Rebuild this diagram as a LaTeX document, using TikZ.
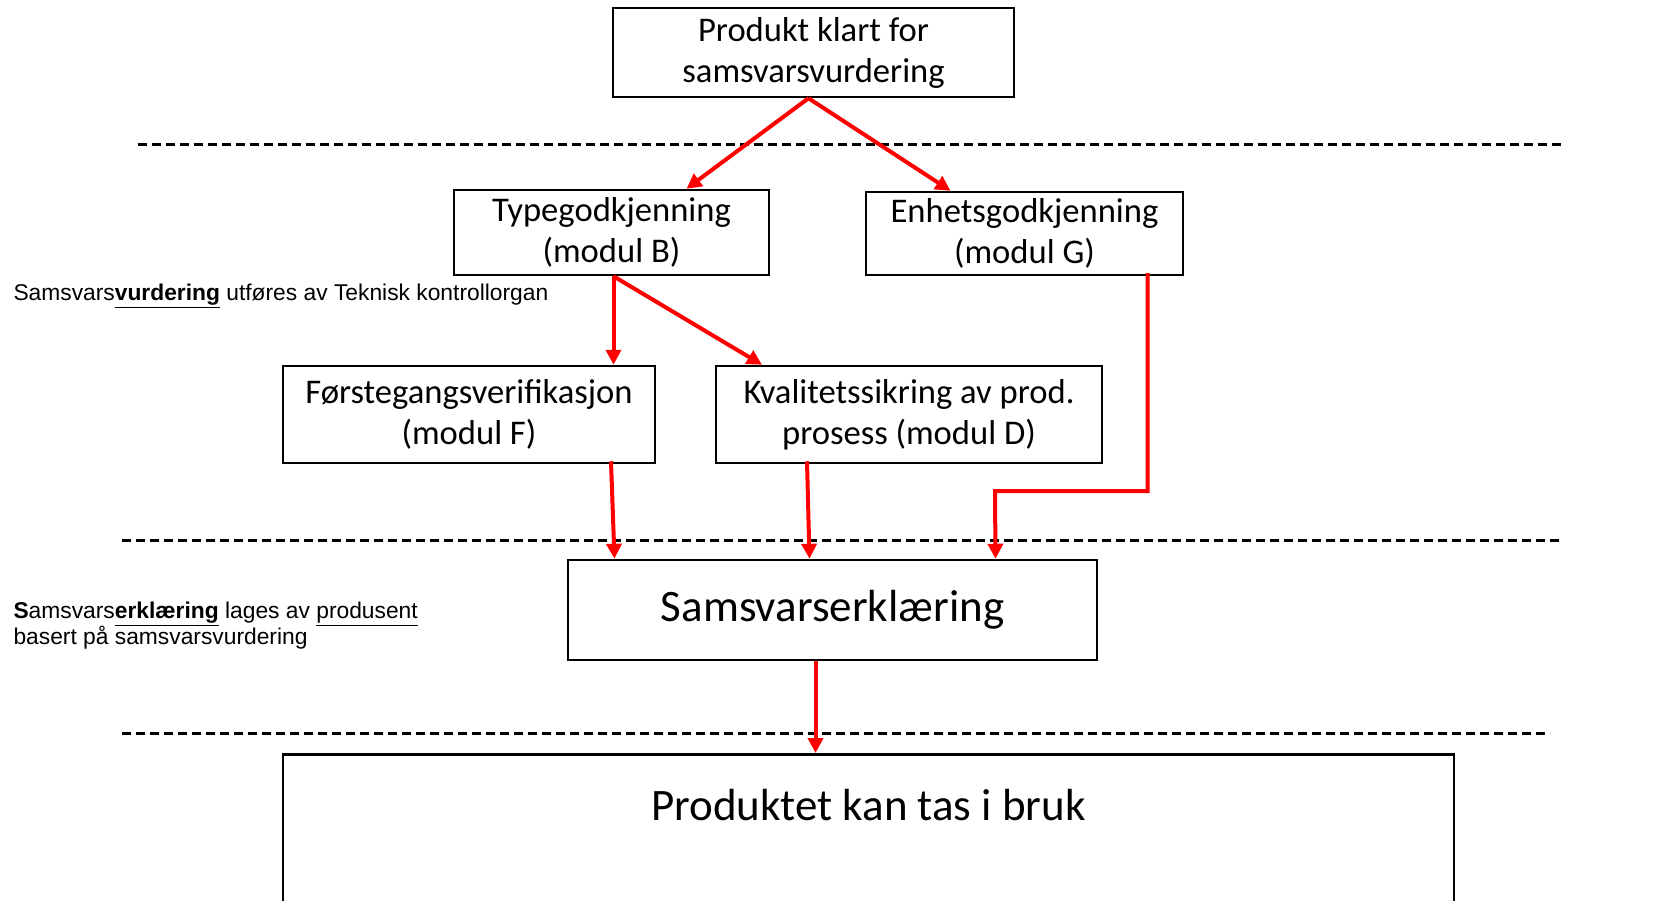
\documentclass[tikz,border=0pt]{standalone}
\usepackage{fontspec}
\setmainfont{Carlito}
\newfontfamily\arialfont{Liberation Sans}
\usetikzlibrary{arrows.meta}
\definecolor{pilrod}{HTML}{FF0000}

\begin{document}
\begin{tikzpicture}[
            x=1pt, y=-1pt,
            box/.style={rectangle, draw, line width=2.5pt, align=center, inner sep=0pt,
                        font=\fontsize{34.6}{41}\selectfont},
            stor/.style={box, font=\fontsize{45}{54}\selectfont},
            flow/.style={draw=pilrod, line width=4pt, -{Triangle[length=15pt, width=15pt]}},
            skille/.style={line width=3pt, dash pattern=on 9pt off 5pt},
            merknad/.style={anchor=west, align=left, font=\arialfont\fontsize{22.8}{26}\selectfont}
        ]
            \useasboundingbox (0,0) rectangle (1660,901);

            \node[box, minimum width=401pt, minimum height=89pt] (start) at (813.5,52.5) {Produkt klart for\\samsvarsvurdering};
            \node[box, minimum width=315pt, minimum height=85pt] (type) at (611.5,232.5) {Typegodkjenning\\(modul B)};
            \node[box, minimum width=317pt, minimum height=83pt] (enhet) at (1024.5,233.5) {Enhetsgodkjenning\\(modul G)};
            \node[box, minimum width=372pt, minimum height=97pt] (forste) at (469,414.5) {Førstegangsverifikasjon\\(modul F)};
            \node[box, minimum width=386pt, minimum height=97pt] (kval) at (909,414.5) {Kvalitetssikring av prod.\\prosess (modul D)};
            \node[stor, minimum width=529pt, minimum height=100pt] (erkl) at (832.5,610) {Samsvarserklæring};
            \node[stor, minimum width=1171pt, text height=66pt, text depth=150pt, anchor=north] (bruk) at (868.5,753) {Produktet kan tas i bruk};
            \coordinate (knekk) at (995,491);

            \draw[skille] (138,145) -- (1565,145);
            \draw[skille] (122,540) -- (1562,540);
            \draw[skille] (122,733) -- (1550,733);

            \draw[flow] ([xshift=-5pt]start.south) -- ([xshift=75pt]type.north);
            \draw[flow] ([xshift=-5pt]start.south) -- ([xshift=-74pt]enhet.north);
            \draw[flow] ([xshift=2pt]type.south) -- ([xshift=2pt]type.south |- forste.north);
            \draw[flow] ([xshift=2pt]type.south) -- ([xshift=-147pt]kval.north);
            \draw[flow] ([xshift=142pt,yshift=3pt]forste.south) -- ([xshift=-218pt]erkl.north);
            \draw[flow] ([xshift=-102pt,yshift=3pt]kval.south) -- ([xshift=-23pt]erkl.north);
            \draw[flow] ([xshift=123pt,yshift=3pt]enhet.south) |- (knekk) -- ([xshift=163pt]erkl.north);
            \draw[flow] ([xshift=-17pt]erkl.south) -- ([xshift=-53pt]bruk.north);

            \node[merknad] (vurd) at (10,296) {Samsvars\underline{\textbf{vurdering}} utføres av Teknisk kontrollorgan};
            \node[merknad] (prod) at (10,626) {\textbf{S}amsvars\underline{\textbf{erklæring}} lages av \underline{produsent}\\basert på samsvarsvurdering};
        \end{tikzpicture}
\end{document}
